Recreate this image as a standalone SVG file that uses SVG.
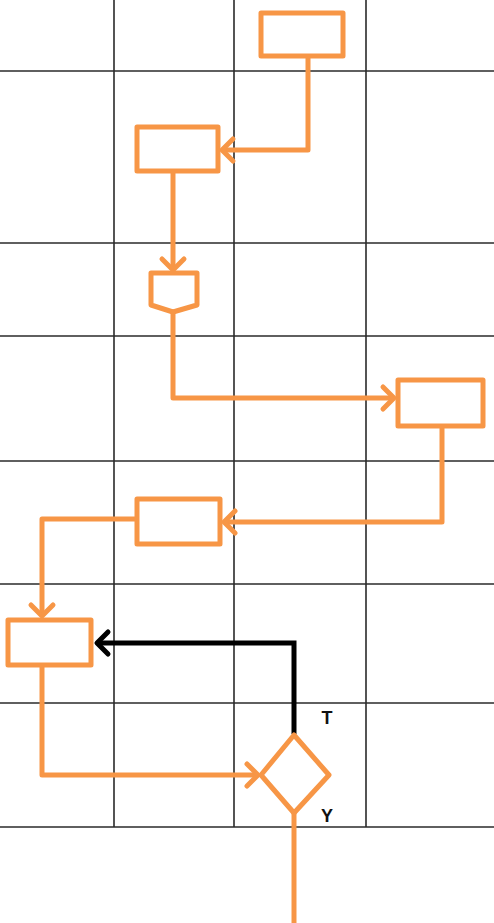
<svg xmlns="http://www.w3.org/2000/svg" width="494" height="923" viewBox="0 0 494 923">
<style>
.grid{stroke:#2a2a2a;stroke-width:1.6;fill:none}
.node{fill:#fff;stroke:#F79646;stroke-width:5;stroke-linejoin:round}
.edge{fill:none;stroke:#F79646;stroke-width:5;stroke-linejoin:round}
.edgeb{fill:none;stroke:#000;stroke-width:5;stroke-linejoin:miter}
.lbl{font-family:"Liberation Sans",Arial,sans-serif;font-weight:bold;font-size:18px;fill:#111}
</style>
<defs>
<marker id="ao" markerUnits="userSpaceOnUse" markerWidth="30" markerHeight="30" refX="15" refY="15" orient="auto" viewBox="0 0 30 30">
<path d="M4,4 L15,15 L4,26" fill="none" stroke="#F79646" stroke-width="5" stroke-linecap="round" stroke-linejoin="round"/>
</marker>
<marker id="ab" markerUnits="userSpaceOnUse" markerWidth="30" markerHeight="30" refX="15" refY="15" orient="auto" viewBox="0 0 30 30">
<path d="M4,4 L15,15 L4,26" fill="none" stroke="#000" stroke-width="5" stroke-linecap="round" stroke-linejoin="round"/>
</marker>
</defs>
<rect width="494" height="923" fill="#fff"/>
<g id="grid">
<line class="grid" x1="0" y1="71" x2="494" y2="71"/>
<line class="grid" x1="0" y1="243" x2="494" y2="243"/>
<line class="grid" x1="0" y1="336" x2="494" y2="336"/>
<line class="grid" x1="0" y1="461" x2="494" y2="461"/>
<line class="grid" x1="0" y1="584" x2="494" y2="584"/>
<line class="grid" x1="0" y1="703" x2="494" y2="703"/>
<line class="grid" x1="0" y1="827" x2="494" y2="827"/>
<line class="grid" x1="114" y1="0" x2="114" y2="827"/>
<line class="grid" x1="234" y1="0" x2="234" y2="827"/>
<line class="grid" x1="366" y1="0" x2="366" y2="827"/>
</g>
<g id="connectors">
<path class="edge" d="M308,57 L308,150 L222,150" marker-end="url(#ao)"/>
<path class="edge" d="M173,172 L173,270" marker-end="url(#ao)"/>
<path class="edge" d="M173,312 L173,398 L394,398" marker-end="url(#ao)"/>
<path class="edge" d="M442,428 L442,522 L224,522" marker-end="url(#ao)"/>
<path class="edge" d="M136,519 L42,519 L42,616" marker-end="url(#ao)"/>
<path class="edge" d="M42,666 L42,775 L258,775" marker-end="url(#ao)"/>
<path class="edgeb" d="M294,734 L294,643 L97,643" marker-end="url(#ab)"/>
<path class="edge" d="M294,813 L294,923"/>
</g>
<g id="n1"><rect class="node" x="261" y="13" width="82" height="43"/></g>
<g id="n2"><rect class="node" x="137" y="127" width="81" height="44"/></g>
<g id="n3"><path class="node" d="M151,273 L197,273 L197,305 L173,312 L151,305 Z"/></g>
<g id="n4"><rect class="node" x="398" y="380" width="85" height="46"/></g>
<g id="n5"><rect class="node" x="137" y="499" width="83" height="45"/></g>
<g id="n6"><rect class="node" x="8" y="620" width="83" height="45"/></g>
<g id="n7"><path class="node" d="M294,735 L329,775 L294,813 L261,775 Z"/></g>
<g id="labels">
<text class="lbl" x="327" y="724" text-anchor="middle">T</text>
<text class="lbl" x="327" y="822" text-anchor="middle">Y</text>
</g>
</svg>
